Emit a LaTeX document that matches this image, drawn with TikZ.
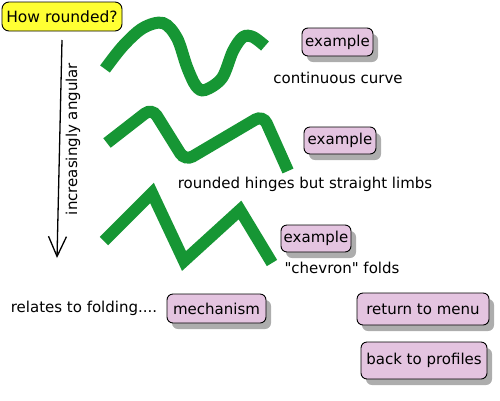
\documentclass[tikz,border=0pt]{standalone}
\usepackage{fontspec}
\setmainfont{DejaVu Sans}
\usetikzlibrary{arrows.meta,shadows}
\definecolor{leafgreen}{RGB}{22,150,52}
\definecolor{btnpink}{RGB}{228,196,224}
\definecolor{titleyellow}{RGB}{255,255,51}
\tikzset{
  btn/.style={draw=black, line width=0.9pt, rounded corners=6pt, fill=btnpink,
    inner sep=0pt, font=\fontsize{15}{17}\selectfont,
    drop shadow={shadow xshift=5pt, shadow yshift=-6pt, fill=black!32, opacity=1}},
  lbl/.style={inner sep=0pt, font=\fontsize{15}{17}\selectfont},
  fold/.style={draw=leafgreen, line width=12pt},
}
\begin{document}
\begin{tikzpicture}[x=1pt,y=-1pt]
\useasboundingbox (0,0) rectangle (500,400);
% title
\node[draw=black, line width=0.9pt, rounded corners=7pt, fill=titleyellow,
  minimum width=120pt, minimum height=29pt, inner sep=0pt,
  font=\fontsize{15.5}{17}\selectfont] (title) at (62,16.5) {How rounded?};
% arrow
\coordinate (atop) at (62,40);
\coordinate (abot) at (57,258);
\draw[line width=1.3pt, -{Straight Barb[length=20pt,width=18pt,line width=1.3pt]}] (atop) -- (abot);
\node[lbl, rotate=90] (axis) at (73,139) {increasingly angular};
% curve 1
\draw[fold, line cap=butt] plot[smooth, tension=0.55] coordinates {
  (105,69) (123,46) (143,28) (163,23) (177,38) (187,67) (196,86) (205,90)
  (222,78) (233,51) (243,37) (253,37) (265,46)};
% curve 2
\draw[fold, rounded corners=9pt] (107,143) -- (152,108) -- (185,161) -- (263,115) -- (288,171);
% curve 3
\draw[fold, miter limit=10] (104,241) -- (152,193) -- (184,261) -- (240,210) -- (272,263);
% buttons and labels
\node[btn, minimum width=71pt, minimum height=28pt] (ex1) at (337.5,42) {example};
\node[lbl] (l1) at (338,78) {continuous curve};
\node[btn, minimum width=72pt, minimum height=27pt] (ex2) at (340,140.5) {example};
\node[lbl] (l2) at (305,184) {rounded hinges but straight limbs};
\node[btn, minimum width=70pt, minimum height=27pt] (ex3) at (316,238.5) {example};
\node[lbl] (l3) at (342,268) {\textquotedbl chevron\textquotedbl{} folds};
\node[lbl] (l4) at (84,308) {relates to folding....};
\node[btn, minimum width=99pt, minimum height=29pt] (mech) at (216.5,308.5) {mechanism};
\node[btn, minimum width=132pt, minimum height=32pt] (ret) at (423,309) {return to menu};
\node[btn, minimum width=126pt, minimum height=37pt] (back) at (424,360.5) {back to profiles};
\end{tikzpicture}
\end{document}
